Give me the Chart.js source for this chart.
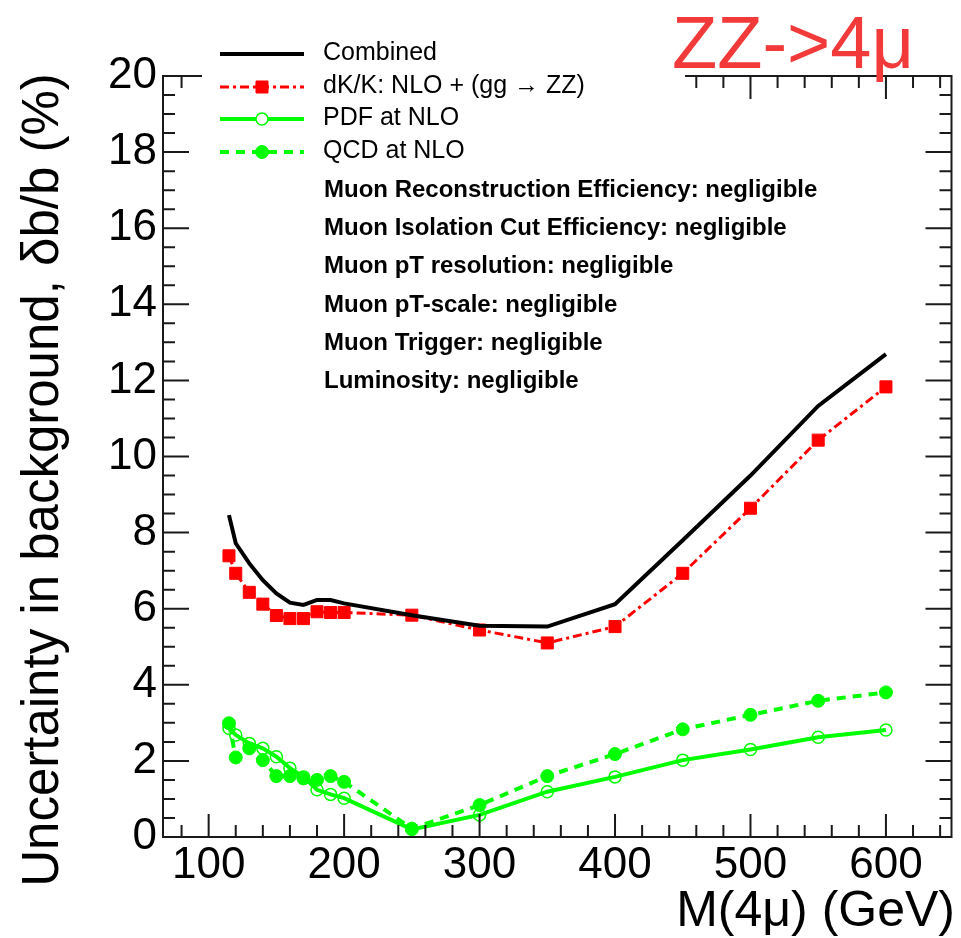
<!DOCTYPE html>
<html lang="en">
<head>
  <meta charset="UTF-8">
  <title>ZZ->4mu background uncertainty</title>
  <script src="https://cdn.jsdelivr.net/npm/chart.js"></script>
  <style>
    html, body { margin: 0; padding: 0; background: #FFFFFF; }
    #wrap { width: 961px; height: 938px; position: relative; }
  </style>
</head>
<body>
  <div id="wrap"><canvas id="chart"></canvas></div>

  <script>
    // values
    const masses   = [115, 120, 130, 140, 150, 160, 170, 180, 190, 200, 250, 300, 350, 400, 450, 500, 550, 600];
    const combined = [8.46, 7.72, 7.19, 6.75, 6.40, 6.16, 6.10, 6.23, 6.23, 6.14, 5.83, 5.55, 5.53, 6.12, 7.80, 9.50, 11.33, 12.69];
    const dkk      = [7.39, 6.93, 6.43, 6.12, 5.82, 5.74, 5.74, 5.92, 5.90, 5.90, 5.83, 5.44, 5.10, 5.53, 6.93, 8.64, 10.43, 11.83];
    const pdf      = [2.86, 2.68, 2.46, 2.33, 2.11, 1.81, 1.58, 1.24, 1.12, 1.02, 0.20, 0.58, 1.19, 1.58, 2.02, 2.30, 2.62, 2.81];
    const qcd      = [2.99, 2.09, 2.33, 2.02, 1.60, 1.60, 1.54, 1.50, 1.60, 1.45, 0.22, 0.84, 1.60, 2.18, 2.83, 3.21, 3.58, 3.80];

    const xTicks = [100, 200, 300, 400, 500, 600];
    const yTicks = [0, 2, 4, 6, 8, 10, 12, 14, 16, 18, 20];

    const seriesNames = ['Combined', 'dK/K: NLO + (gg \u2192 ZZ)', 'PDF at NLO', 'QCD at NLO'];
    const notes = [
      'Muon Reconstruction Efficiency: negligible',
      'Muon Isolation Cut Efficiency: negligible',
      'Muon pT resolution: negligible',
      'Muon pT-scale: negligible',
      'Muon Trigger: negligible',
      'Luminosity: negligible'
    ];
    const xTitle = 'M(4\u03bc) (GeV)';
    const yTitle = 'Uncertainty in background, \u03b4b/b (%)';
    const tag = 'ZZ->4\u03bc';

    const FONT = "'Liberation Sans', Arial, sans-serif";
    const GREEN = '#00FF00';
    const RED = '#FF0000';

    const pts = arr => masses.map((m, i) => ({ x: m, y: arr[i] }));

    // ROOT-like frame with ticks pointing inwards on all four sides
    const framePlugin = {
      id: 'frame',
      afterDatasetsDraw(chart) {
        const { ctx, chartArea: a, scales: { x, y } } = chart;
        ctx.save();
        ctx.strokeStyle = '#1a1a1a';
        ctx.lineWidth = 2;
        ctx.strokeRect(a.left, a.top, a.right - a.left, a.bottom - a.top);
        ctx.beginPath();
        for (let v = 80; v < x.max; v += 20) {
          const px = x.getPixelForValue(v);
          const len = v % 100 === 0 ? 23 : 12;
          ctx.moveTo(px, a.bottom); ctx.lineTo(px, a.bottom - len);
          ctx.moveTo(px, a.top); ctx.lineTo(px, a.top + len);
        }
        for (let v = 0.5; v < y.max; v += 0.5) {
          const py = y.getPixelForValue(v);
          const len = v % 2 === 0 ? 26 : 12;
          ctx.moveTo(a.left, py); ctx.lineTo(a.left + len, py);
          ctx.moveTo(a.right, py); ctx.lineTo(a.right - len, py);
        }
        ctx.stroke();
        ctx.restore();
      }
    };

    const textPlugin = {
      id: 'texts',
      afterDraw(chart) {
        const { ctx } = chart;
        ctx.save();
        ctx.fillStyle = '#000';

        // axis titles
        ctx.font = '50px ' + FONT;
        ctx.textAlign = 'right';
        ctx.textBaseline = 'alphabetic';
        ctx.fillText(xTitle, 955, 926);

        ctx.save();
        ctx.font = '51px ' + FONT;
        ctx.translate(58, 480);
        ctx.rotate(-Math.PI / 2);
        ctx.textAlign = 'center';
        ctx.fillText(yTitle, 0, 0);
        ctx.restore();

        // legend box (white, no border) hides the frame under it
        ctx.fillStyle = '#FFFFFF';
        ctx.fillRect(202, 28, 483, 140);
        ctx.fillStyle = '#000';

        const rows = [54, 87, 119, 152];
        chart.data.datasets.forEach((ds, i) => {
          const yy = rows[i];
          ctx.save();
          ctx.strokeStyle = ds.borderColor;
          ctx.lineWidth = ds.borderWidth;
          ctx.setLineDash(ds.borderDash || []);
          ctx.beginPath();
          ctx.moveTo(220, yy); ctx.lineTo(304, yy);
          ctx.stroke();
          ctx.setLineDash([]);
          if (ds.pointRadius > 0) {
            ctx.fillStyle = ds.pointBackgroundColor === 'rgba(0,0,0,0)' ? '#FFFFFF' : ds.pointBackgroundColor;
            ctx.strokeStyle = ds.borderColor;
            ctx.lineWidth = ds.pointBorderWidth;
            Chart.helpers.drawPoint(ctx, {
              pointStyle: ds.pointStyle, radius: ds.pointRadius, rotation: 0, borderWidth: ds.pointBorderWidth
            }, 262, yy);
          }
          ctx.restore();
          ctx.font = '25px ' + FONT;
          ctx.textAlign = 'left';
          ctx.textBaseline = 'alphabetic';
          ctx.fillText(seriesNames[i], 323, yy + 6);
        });

        // systematics that were found negligible
        ctx.font = 'bold 24px ' + FONT;
        notes.forEach((t, i) => ctx.fillText(t, 324, 197 + i * 38.2));

        // channel tag
        ctx.fillStyle = '#F23A3A';
        ctx.font = '74px ' + FONT;
        ctx.fillText(tag, 672, 68);
        ctx.restore();
      }
    };

    const tickFont = { family: FONT, size: 44 };

    new Chart(document.getElementById('chart'), {
      type: 'line',
      data: {
        datasets: [
          {
            label: seriesNames[0], data: pts(combined),
            borderColor: '#000000', borderWidth: 4, pointRadius: 0
          },
          {
            label: seriesNames[1], data: pts(dkk),
            borderColor: RED, borderWidth: 3, borderDash: [9, 4, 3, 4],
            pointStyle: 'rect', pointRadius: 8.5, pointBorderWidth: 1, pointBackgroundColor: RED
          },
          {
            label: seriesNames[2], data: pts(pdf),
            borderColor: GREEN, borderWidth: 4,
            pointStyle: 'circle', pointRadius: 6, pointBorderWidth: 1.5, pointBackgroundColor: 'rgba(0,0,0,0)'
          },
          {
            label: seriesNames[3], data: pts(qcd),
            borderColor: GREEN, borderWidth: 4, borderDash: [9, 7],
            pointStyle: 'circle', pointRadius: 6.5, pointBorderWidth: 1, pointBackgroundColor: GREEN
          }
        ]
      },
      options: {
        responsive: true,
        maintainAspectRatio: false,
        animation: false,
        layout: { padding: { top: 76, right: 4, left: 0, bottom: 0 } },
        plugins: { legend: { display: false }, tooltip: { enabled: false } },
        scales: {
          x: {
            type: 'linear', min: 66.3, max: 648.4,
            grid: { display: false, drawTicks: false }, border: { display: false },
            afterBuildTicks: s => { s.ticks = xTicks.map(v => ({ value: v })); },
            afterFit: s => { s.height = 101; },
            ticks: { autoSkip: false, maxRotation: 0, padding: 2, color: '#000', font: tickFont }
          },
          y: {
            min: 0, max: 20,
            grid: { display: false, drawTicks: false }, border: { display: false },
            afterBuildTicks: s => { s.ticks = yTicks.map(v => ({ value: v })); },
            afterFit: s => { s.width = 163; },
            ticks: { autoSkip: false, padding: 6, color: '#000', font: tickFont }
          }
        }
      },
      plugins: [framePlugin, textPlugin]
    });
  </script>
</body>
</html>
